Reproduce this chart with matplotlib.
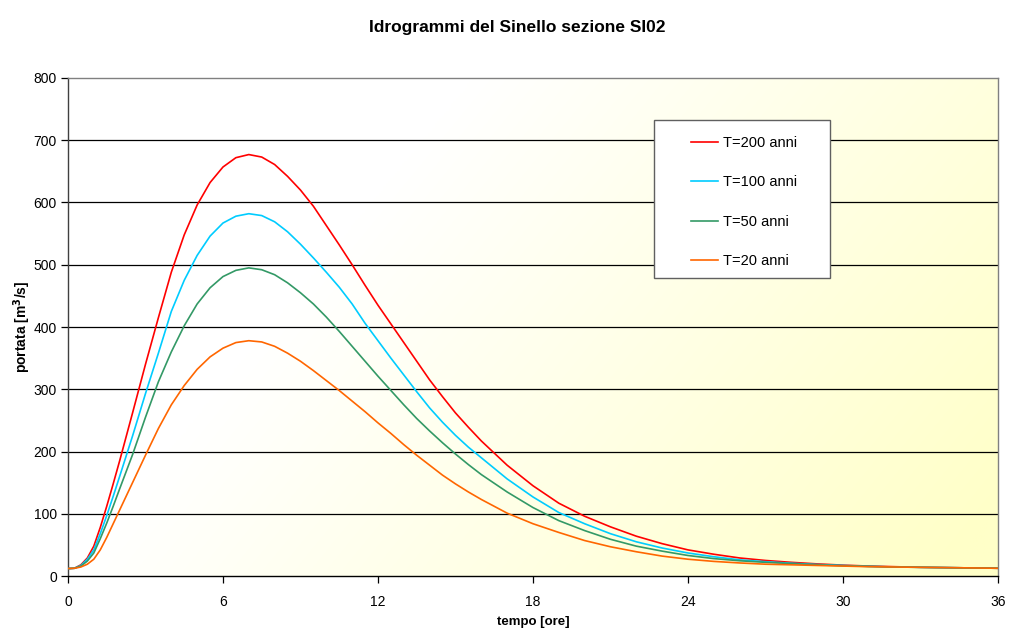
import numpy as np
import matplotlib
matplotlib.use("Agg")
import matplotlib.pyplot as plt
from matplotlib.patches import Rectangle
from matplotlib.colors import to_rgb

plt.rcParams['font.family'] = ['Liberation Sans', 'DejaVu Sans']

# time axis [h]: finer steps on the rising limb, then hourly
tempo = [0, 0.25, 0.5, 0.75, 1, 1.25, 1.5, 1.75, 2, 2.5, 3, 3.5, 4, 4.5, 5,
         5.5, 6, 6.5, 7, 7.5, 8, 8.5, 9, 9.5, 10, 10.5, 11, 11.5, 12, 12.5,
         13, 13.5, 14, 14.5, 15, 15.5, 16, 17, 18, 19, 20, 21, 22, 23, 24,
         25, 26, 27, 28, 29, 30, 31, 32, 33, 34, 35, 36]

# discharge [m3/s] for each return period
q_t200 = [12, 12.5, 18, 29, 48, 78, 112, 148, 185, 262, 340, 415, 488, 548,
          596, 632, 657, 672, 677, 673, 661, 642, 620, 594, 563, 532, 500,
          467, 435, 405, 375, 345, 315, 288, 262, 239, 217, 178, 145, 117, 96,
          79, 64, 52, 42, 35, 29, 25, 22, 19.5, 17.5, 16, 15, 14, 13.5, 13,
          12.5]
q_t100 = [12, 12.5, 17, 27, 42, 68, 97, 128, 160, 225, 293, 358, 425, 475,
          515, 546, 567, 578, 582, 579, 569, 553, 533, 511, 488, 464, 437,
          406, 378, 350, 323, 296, 270, 247, 226, 207, 190, 156, 127, 102, 84,
          68, 55, 45, 37, 31, 26, 23, 20.5, 18.5, 17, 15.5, 14.5, 14, 13.5,
          13, 12.5]
q_t50 = [12, 12.5, 16, 24, 37, 60, 85, 112, 140, 195, 255, 312, 360, 402,
         437, 463, 481, 491, 495, 492, 484, 471, 455, 437, 416, 393, 369, 345,
         321, 298, 275, 253, 233, 214, 196, 179, 163, 135, 110, 89, 73, 59,
         48, 40, 33, 28, 24.5, 22, 20, 18, 16.5, 15.5, 14.5, 14, 13.5, 13,
         12.5]
q_t20 = [12, 12.5, 14.5, 19, 27, 42, 62, 84, 106, 150, 194, 237, 275, 306,
         332, 352, 366, 375, 378, 376, 369, 358, 345, 330, 314, 298, 281,
         264, 246, 229, 211, 194, 178, 162, 148, 135, 123, 101, 84, 70, 57,
         47, 39, 32, 27, 23.5, 21, 19, 18, 17, 16, 15, 14.5, 14, 13.5, 13,
         12.5]

labels = ["T=200 anni", "T=100 anni", "T=50 anni", "T=20 anni"]
colors = ["#FF0000", "#00CCFF", "#339966", "#FF6600"]
series = [q_t200, q_t100, q_t50, q_t20]

x_ticks = [0, 6, 12, 18, 24, 30, 36]
y_ticks = [0, 100, 200, 300, 400, 500, 600, 700, 800]

fig = plt.figure(figsize=(10.10, 6.33), dpi=100)
ax = fig.add_axes([0.0673, 0.090, 0.9208, 0.7868])

# plot-area fill: white fading to pale yellow towards the lower right
nx, ny = 400, 200
gx = np.linspace(0, 1, nx)[None, :]
gy = np.linspace(0, 1, ny)[:, None]          # 0 = top, 1 = bottom
s = np.clip((0.8 * gx + 0.35 * gy - 0.35) / 0.75, 0, 1)
c0 = np.array(to_rgb("#FFFFFF"))
c1 = np.array(to_rgb("#FFFFC8"))
img = c0[None, None, :] * (1 - s[..., None]) + c1[None, None, :] * s[..., None]
ax.imshow(img, extent=[0, 36, 0, 800], origin="upper", aspect="auto",
          zorder=0, interpolation="bilinear")

for yv in y_ticks[1:-1]:
    ax.axhline(yv, color="#000000", lw=0.9, zorder=1)

for q, c, lab in zip(series, colors, labels):
    ax.plot(tempo, q, color=c, lw=1.2, label=lab, zorder=3)

ax.set_xlim(0, 36)
ax.set_ylim(0, 800)
ax.set_xticks(x_ticks)
ax.set_yticks(y_ticks)
ax.tick_params(axis="both", direction="out", length=5, width=0.9,
               labelsize=10, colors="#000000", pad=3)
ax.tick_params(axis="x", pad=9)

for side in ["top", "right"]:
    ax.spines[side].set_color("#808080")
    ax.spines[side].set_linewidth(1.0)
ax.spines["left"].set_color("#404040")
ax.spines["bottom"].set_color("#000000")
ax.spines["left"].set_linewidth(1.0)
ax.spines["bottom"].set_linewidth(1.0)

fig.text(0.512, 0.957, "Idrogrammi del Sinello sezione SI02", fontsize=12.5,
         fontweight="bold", ha="center", va="center")
ax.set_xlabel("tempo [ore]", fontsize=9.5, fontweight="bold", labelpad=5)
ax.set_ylabel("portata [m$^\\mathbf{3}$/s]", fontsize=10, fontweight="bold",
              labelpad=0.5)

# legend box
ax.add_patch(Rectangle((0.630, 0.598), 0.189, 0.318, transform=ax.transAxes,
                       facecolor="white", edgecolor="#606060", lw=1.0,
                       zorder=4))
ax.legend(loc="upper left", bbox_to_anchor=(0.662, 0.898), frameon=False,
          fontsize=10.5, handlelength=1.85, handletextpad=0.35,
          labelspacing=1.74, borderaxespad=0.0, borderpad=0.5)

fig.savefig("out.png", dpi=100)
